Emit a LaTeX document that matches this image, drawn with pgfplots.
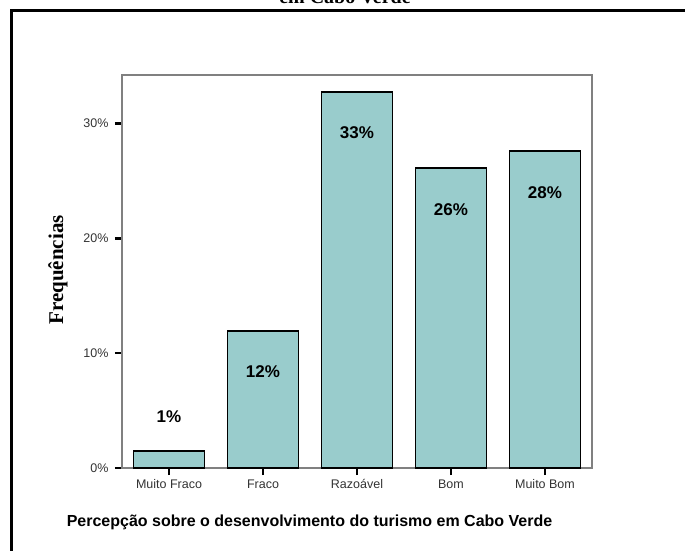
\documentclass[border=0pt]{standalone}
\usepackage{pgfplots}
\pgfplotsset{compat=1.18}
\usepackage{fontspec}
\setmainfont{Liberation Serif}
\newfontfamily\arial{Liberation Sans}
\definecolor{barfill}{RGB}{153,204,204}
\definecolor{framegray}{RGB}{128,128,128}
\begin{document}
\begin{tikzpicture}[x=1pt,y=1pt]
\useasboundingbox (-122,-83) rectangle (563,468);
\clip (-122,-83) rectangle (563,468);
% outer frame (cut off at right and bottom)
\draw[line width=3pt] (-110,-200) -- (-110,457.3) -- (700,457.3);
% second title line, cut at the top
\node[anchor=base, font=\bfseries\fontsize{20}{20}\selectfont] at (223,464) {em Cabo Verde};
\begin{axis}[
  at={(0,0)}, anchor=south west,
  scale only axis, width=470pt, height=393pt,
  xmin=-0.5, xmax=4.5, ymin=0, ymax=34.2,
  ybar, bar width=71pt,
  axis line style={draw=framegray, line width=1.1pt},
  xtick={0,1,2,3,4},
  xticklabels={Muito Fraco,Fraco,Razoável,Bom,Muito Bom},
  ytick={0,10,20,30},
  yticklabels={0\%,10\%,20\%,30\%},
  xtick pos=bottom, ytick pos=left, tick align=outside,
  major tick length=7pt,
  major tick style={black, line width=2.8pt},
  ticklabel style={font=\arial\fontsize{12.5}{12.5}\selectfont, text=black!80},
  yticklabel style={xshift=-3pt},
  xticklabel style={yshift=-1pt},
  xlabel={Percepção sobre o desenvolvimento do turismo em Cabo Verde},
  xlabel style={at={(axis description cs:0.399,0)}, anchor=base, yshift=-58pt,
    font=\arial\bfseries\fontsize{16}{16}\selectfont},
  ylabel={Frequências},
  ylabel style={at={(axis description cs:-0.136,0.504)}, anchor=center,
    font=\bfseries\fontsize{21}{21}\selectfont},
]
\addplot[fill=barfill, draw=black, line width=1.6pt] coordinates {
  (0,1.5) (1,11.9) (2,32.7) (3,26.1) (4,27.6)
};
\node[font=\arial\bfseries\fontsize{17}{17}\selectfont] at (axis cs:0,4.5) {1\%};
\node[font=\arial\bfseries\fontsize{17}{17}\selectfont] at (axis cs:1,8.4) {12\%};
\node[font=\arial\bfseries\fontsize{17}{17}\selectfont] at (axis cs:2,29.2) {33\%};
\node[font=\arial\bfseries\fontsize{17}{17}\selectfont] at (axis cs:3,22.5) {26\%};
\node[font=\arial\bfseries\fontsize{17}{17}\selectfont] at (axis cs:4,24.0) {28\%};
\end{axis}
\end{tikzpicture}
\end{document}
